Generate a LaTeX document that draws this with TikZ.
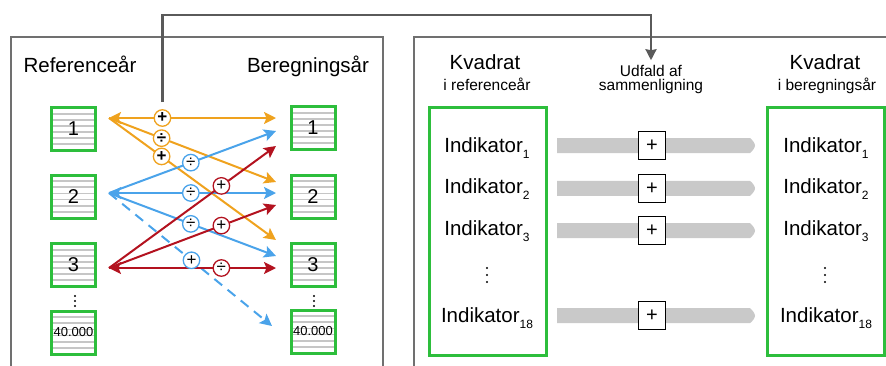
\documentclass[tikz,border=0pt]{standalone}
\usepackage{fontspec}
\setmainfont{Liberation Sans}
\usetikzlibrary{arrows.meta,calc}
\definecolor{cgreen}{HTML}{2DBE3C}
\definecolor{corange}{HTML}{EFA21E}
\definecolor{cblue}{HTML}{4AA3EA}
\definecolor{cred}{HTML}{B3121F}
\definecolor{cpanel}{HTML}{707070}
\definecolor{clink}{HTML}{5A5A5A}
\definecolor{cstripe}{HTML}{C6C6C6}
\definecolor{cbar}{HTML}{C9C9C9}

\newcommand{\ind}[1]{Indikator\raisebox{-6pt}{\fontsize{12}{12}\selectfont #1}}

\begin{document}
\begin{tikzpicture}[x=1pt,y=-1pt,
  >={Stealth[length=12pt,width=12pt,inset=2.5pt]},
  big/.style={font=\fontsize{20.5}{22}\selectfont},
  small/.style={font=\fontsize{15.5}{17}\selectfont},
  panel/.style={draw=cpanel,line width=2pt},
  cell/.style={draw=cgreen,line width=3pt,fill=white,minimum width=44pt,
    minimum height=43pt,inner sep=0pt,font=\fontsize{20}{20}\selectfont,
    path picture={\foreach \k in {1,...,6}{
      \draw[cstripe,line width=1.8pt]
        ($(path picture bounding box.south west)!\k/7!(path picture bounding box.north west)$)
        -- ++(60pt,0pt);}}},
  aro/.style={draw=corange,line width=2pt},
  arb/.style={draw=cblue,line width=2pt},
  arr/.style={draw=cred,line width=2pt},
  sym/.style={circle,draw=#1,fill=white,line width=1.3pt,minimum size=16.5pt,
    inner sep=0pt,font=\fontsize{17}{17}\selectfont},
  greenbox/.style={draw=cgreen,line width=3pt},
  plusbox/.style={draw=black,fill=white,line width=1pt,minimum width=27pt,
    minimum height=28pt,inner sep=0pt,font=\fontsize{20}{20}\selectfont},
  bar/.style={fill=cbar},
  dotmark/.style={fill=black}
]
\useasboundingbox (0,0) rectangle (886,365);

% panel frames (open at the image edges)
\draw[panel] (11,366) -- (11,37) -- (383,37) -- (383,366);
\draw[panel] (414,366) -- (414,37) -- (887,37);

% left panel headings
\node[big,anchor=base] (reflabel) at (80,72) {Referenceår};
\node[big,anchor=base] (beregnlabel) at (308,72) {Beregningsår};

% grid cells
\node[cell] (L1) at (73.5,129) {1};
\node[cell] (L2) at (73.5,196.5) {2};
\node[cell] (L3) at (73.5,265) {3};
\node[cell,font=\fontsize{13}{13}\selectfont] (L4) at (73.5,332.5) {40.000};
\node[cell] (R1) at (313,128) {1};
\node[cell] (R2) at (313,196.5) {2};
\node[cell] (R3) at (313,265) {3};
\node[cell,font=\fontsize{13}{13}\selectfont] (R4) at (313,331.5) {40.000};

\foreach \yy in {296,301,306}{
  \fill[dotmark] (75,\yy) circle (1.1pt);
  \fill[dotmark] (314,\yy) circle (1.1pt);
}

% arrow end points
\coordinate (s1) at (109,118);
\coordinate (s2) at (109,193);
\coordinate (s3) at (109,268);
\coordinate (t11) at (276,118);
\coordinate (t12) at (276,182);
\coordinate (t13) at (276,240);
\coordinate (t21) at (276,131);
\coordinate (t22) at (276,193);
\coordinate (t23) at (276,256);
\coordinate (t24) at (272,326);
\coordinate (t31) at (276,146);
\coordinate (t32) at (276,205);
\coordinate (t33) at (276,268);

% comparisons from cell 1
\draw[aro,<->] (s1) -- coordinate[pos=.32] (m11) (t11);
\draw[aro,->] (s1) -- coordinate[pos=.315] (m12) (t12);
\draw[aro,->] (s1) -- coordinate[pos=.315] (m13) (t13);
% comparisons from cell 2
\draw[arb,->] (s2) -- coordinate[pos=.49] (m21) (t21);
\draw[arb,<->] (s2) -- coordinate[pos=.49] (m22) (t22);
\draw[arb,->] (s2) -- coordinate[pos=.49] (m23) (t23);
\draw[arb,dash pattern=on 10pt off 7pt,->] (s2) -- coordinate[pos=.506] (m24) (t24);
% comparisons from cell 3
\draw[arr,->] (s3) -- coordinate[pos=.673] (m31) (t31);
\draw[arr,->] (s3) -- coordinate[pos=.673] (m32) (t32);
\draw[arr,<->] (s3) -- coordinate[pos=.673] (m33) (t33);

% outcome markers
\node[sym=corange] (k11) at (m11) {\textbf{+}};
\node[sym=corange] (k12) at (m12) {\textbf{÷}};
\node[sym=corange] (k13) at (m13) {\textbf{+}};
\node[sym=cblue] (k21) at (m21) {÷};
\node[sym=cblue] (k22) at (m22) {÷};
\node[sym=cblue] (k23) at (m23) {÷};
\node[sym=cblue] (k24) at (m24) {+};
\node[sym=cred] (k31) at (m31) {+};
\node[sym=cred] (k32) at (m32) {+};
\node[sym=cred] (k33) at (m33) {÷};

% right panel headings
\node[big,anchor=base] (kv1) at (485,69) {Kvadrat};
\node[small,anchor=base] (kv1sub) at (487,90.5) {i referenceår};
\node[small,anchor=base] (udf) at (651,76) {Udfald af};
\node[small,anchor=base] (udf2) at (651,90.5) {sammenligning};
\node[big,anchor=base] (kv2) at (825,69) {Kvadrat};
\node[small,anchor=base] (kv2sub) at (827,90.5) {i beregningsår};

% link from the cell comparisons to the indicator comparisons
\coordinate (linktop) at (0,15);
\draw[draw=clink,line width=2.2pt,-{Stealth[length=11pt,width=11pt,inset=1pt]}]
  ([yshift=7pt]k11.north) |- (linktop -| udf.north) -- ([yshift=1pt]udf.north);

% indicator columns
\draw[greenbox] (429,107) rectangle (546,355);
\draw[greenbox] (767,107) rectangle (884,355);

\foreach \n/\lab/\yb/\yc in {1/1/152/145.5, 2/2/193.5/188.3, 3/3/235/230.7, 4/18/322/315.7}{
  \node[big,anchor=base] (li\n) at (487,\yb) {\ind{\lab}};
  \node[big,anchor=base] (ri\n) at (826,\yb) {\ind{\lab}};
  \fill[bar] (557,\yc-7.5) -- (750,\yc-7.5) .. controls (753,\yc-5) and (755,\yc-2) .. (755,\yc)
     .. controls (755,\yc+2) and (753,\yc+5) .. (750,\yc+7.5) -- (557,\yc+7.5) -- cycle;
  \node[plusbox] (p\n) at (652,\yc) {+};
}

\foreach \yy in {268,275,282}{
  \fill[dotmark] (487,\yy) circle (1.2pt);
  \fill[dotmark] (825,\yy) circle (1.2pt);
}
\end{tikzpicture}
\end{document}
